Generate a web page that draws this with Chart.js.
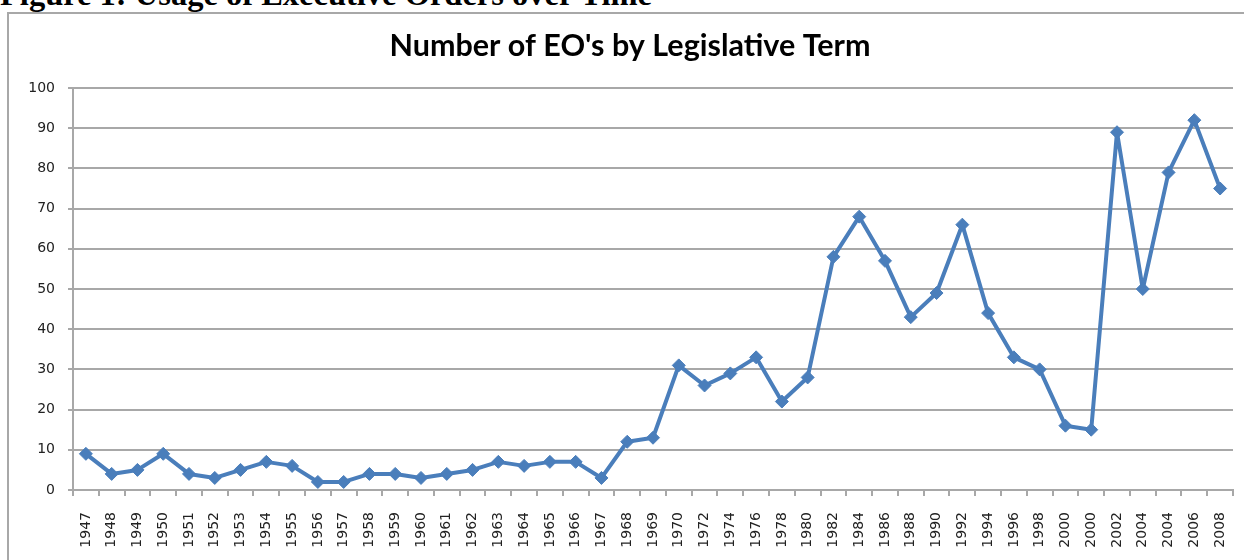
<!DOCTYPE html>
<html>
<head>
<meta charset="utf-8">
<script src="https://cdn.jsdelivr.net/npm/chart.js@4"></script>
<style>
  body { margin: 0; background: #fff; overflow: hidden; }
  #wrap { position: relative; width: 1244px; height: 560px; overflow: hidden; }
  #caption {
    position: absolute; left: 0; top: -22px; margin: 0;
    font: bold 32.5px "Liberation Serif", "Times New Roman", serif;
    line-height: 32px; color: #000; white-space: nowrap;
  }
  #frame {
    position: absolute; left: 7px; top: 12px; width: 1300px; height: 600px;
    border: 2px solid #a8a8a8; box-sizing: border-box;
  }
  #eo { position: absolute; left: 0; top: 0; }
</style>
</head>
<body>
<div id="wrap">
  <p id="caption">Figure 1: Usage of Executive Orders over Time</p>
  <div id="frame"></div>
  <canvas id="eo" width="1244" height="560"></canvas>
</div>
<script>
// legislative terms (yearly to 1969, then every two years)
const terms = [
  "1947", "1948", "1949", "1950", "1951", "1952", "1953", "1954", "1955", "1956",
  "1957", "1958", "1959", "1960", "1961", "1962", "1963", "1964", "1965", "1966",
  "1967", "1968", "1969", "1970", "1972", "1974", "1976", "1978", "1980", "1982",
  "1984", "1986", "1988", "1990", "1992", "1994", "1996", "1998", "2000", "2000",
  "2002", "2004", "2004", "2006", "2008"
];
// executive orders per term
const orders = [
  9, 4, 5, 9, 4, 3, 5, 7, 6, 2,
  2, 4, 4, 3, 4, 5, 7, 6, 7, 7,
  3, 12, 13, 31, 26, 29, 33, 22, 28, 58,
  68, 57, 43, 49, 66, 44, 33, 30, 16, 15,
  89, 50, 79, 92, 75
];
const yMin = 0;
const yMax = 100;
const yStep = 10;

const gridGray = "#a8a8a8";
const tickFont = { family: "'DejaVu Sans', Verdana, sans-serif", size: 14 };

const ctx = document.getElementById("eo").getContext("2d");
const eoChart = new Chart(ctx, {
  type: "line",
  data: {
    labels: terms,
    datasets: [{
      label: "EO's",
      data: orders,
      borderColor: "#4a7ebb",
      backgroundColor: "#4a7ebb",
      borderWidth: 4,
      borderJoinStyle: "round",
      pointStyle: "rectRot",
      pointRadius: 6.5,
      pointBorderWidth: 1,
      tension: 0,
      clip: false,
    }],
  },
  options: {
    responsive: false,
    animation: false,
    layout: { padding: { left: 27, right: 11, top: 0, bottom: 0 } },
    plugins: {
      legend: { display: false },
      tooltip: { enabled: false },
      title: {
        display: true,
        text: "Number of EO's by Legislative Term",
        color: "#000",
        font: { family: "Lato, Calibri, sans-serif", size: 30.5, weight: "bold", lineHeight: 1.2 },
        padding: { top: 28, bottom: 23.4 },
      },
    },
    scales: {
      x: {
        offset: true,
        afterFit: (scale) => {
          scale.height = 70;
          scale.paddingLeft = 0;
          scale.paddingRight = 0;
        },
        grid: {
          offset: true,
          drawOnChartArea: false,
          drawTicks: true,
          tickLength: 6,
          color: gridGray,
          lineWidth: 2,
        },
        border: { display: true, color: gridGray, width: 2 },
        ticks: {
          autoSkip: false,
          maxRotation: 90,
          minRotation: 90,
          padding: 16,
          color: "#222",
          font: tickFont,
        },
      },
      y: {
        min: yMin,
        max: yMax,
        afterFit: (scale) => {
          scale.width = 46;
          scale.paddingTop = 0;
          scale.paddingBottom = 0;
        },
        grid: {
          color: gridGray,
          lineWidth: 2,
          tickLength: 5,
        },
        border: { display: true, color: gridGray, width: 2 },
        ticks: {
          stepSize: yStep,
          padding: 13,
          color: "#222",
          font: tickFont,
        },
      },
    },
  },
});
</script>
</body>
</html>
